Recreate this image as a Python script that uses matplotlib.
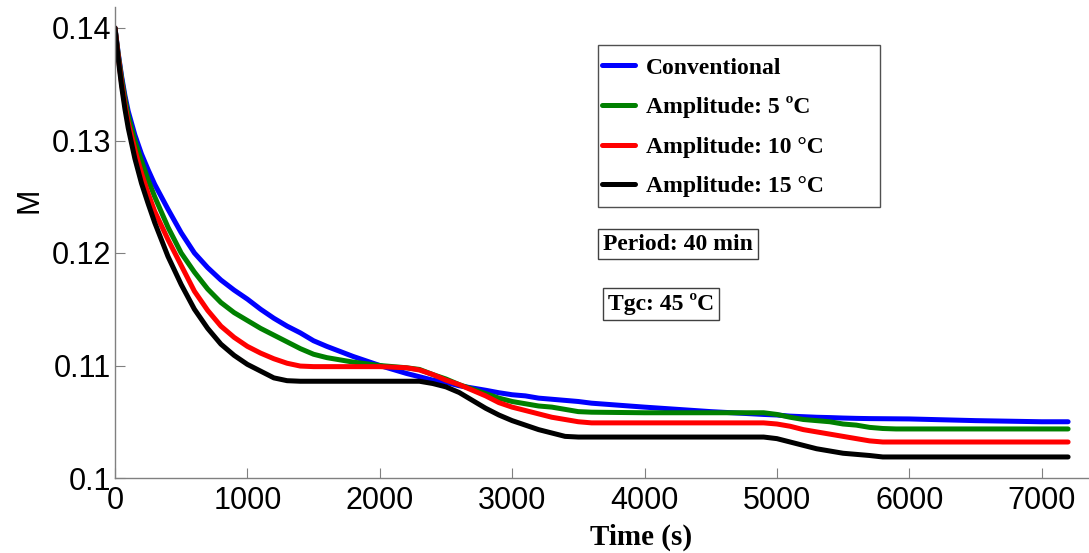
import matplotlib
matplotlib.use("Agg")
import matplotlib.pyplot as plt
from matplotlib.patches import Rectangle

# ---------------- data ----------------
time_s = [0, 25, 50, 75, 100, 150, 200, 250, 300, 400, 500, 600, 700, 800, 900, 1000, 1100,
          1200, 1300, 1400, 1500, 1600, 1800, 2000, 2200, 2300, 2400, 2500, 2600, 2700, 2800,
          2900, 3000, 3100, 3200, 3300, 3400, 3500, 3600, 4000, 4500, 4900, 5000, 5100,
          5200, 5300, 5400, 5500, 5600, 5700, 5800, 5900, 6000, 6500, 7000, 7200]

m_conventional = [0.1400, 0.1377, 0.1357, 0.1340, 0.1326, 0.1305, 0.1288, 0.1274, 0.1261,
                  0.1239, 0.1218, 0.1200, 0.1187, 0.1176, 0.1167, 0.1159, 0.1150, 0.1142,
                  0.1135, 0.1129, 0.1122, 0.1117, 0.1108, 0.1100, 0.1093, 0.1090, 0.1087,
                  0.1085, 0.1082, 0.1080, 0.1078, 0.10758, 0.1074, 0.1073, 0.1071, 0.1070,
                  0.1069, 0.1068, 0.10665, 0.1063, 0.1059, 0.10565, 0.1056, 0.1055, 0.10545,
                  0.1054, 0.10537, 0.10533, 0.1053, 0.10528, 0.10527, 0.10526, 0.10525,
                  0.1051, 0.1050, 0.1050]

m_amp5 = [0.1400, 0.1376, 0.1355, 0.1337, 0.1322, 0.1300, 0.1282, 0.1265, 0.1250, 0.1223,
          0.1200, 0.1183, 0.1168, 0.1156, 0.1147, 0.1140, 0.1133, 0.1127, 0.1121, 0.1115,
          0.1110, 0.1107, 0.1103, 0.1100, 0.1098, 0.10965, 0.1092, 0.1088, 0.1083, 0.1079,
          0.1075, 0.1071, 0.1068, 0.1066, 0.1064, 0.1063, 0.1061, 0.1059, 0.10585, 0.1058,
          0.1058, 0.1058, 0.10565, 0.1054, 0.1052, 0.1051, 0.1050, 0.1048, 0.1047, 0.1045,
          0.10440, 0.10436, 0.10436, 0.10436, 0.10436, 0.10436]

m_amp10 = [0.1400, 0.1374, 0.1351, 0.1332, 0.1316, 0.1292, 0.1271, 0.1253, 0.1237, 0.1212,
           0.1189, 0.1166, 0.1149, 0.1135, 0.1125, 0.1117, 0.1111, 0.1106, 0.1102, 0.10995,
           0.1099, 0.1099, 0.1099, 0.1099, 0.1098, 0.1096, 0.1092, 0.1087, 0.1083, 0.1078,
           0.1073, 0.1067, 0.1063, 0.1060, 0.1057, 0.1054, 0.1052, 0.1050, 0.1049, 0.1049,
           0.1049, 0.1049, 0.1048, 0.1046, 0.1043, 0.1041, 0.1039, 0.1037, 0.1035, 0.1033,
           0.1032, 0.1032, 0.1032, 0.1032, 0.1032, 0.1032]

m_amp15 = [0.1400, 0.1372, 0.1348, 0.1328, 0.1311, 0.1284, 0.1262, 0.1244, 0.1227, 0.1197,
           0.1172, 0.1150, 0.1133, 0.1119, 0.1109, 0.1101, 0.1095, 0.1089, 0.10865, 0.1086,
           0.1086, 0.1086, 0.1086, 0.1086, 0.1086, 0.1086, 0.1084, 0.1081, 0.1076, 0.1069,
           0.1062, 0.1056, 0.1051, 0.1047, 0.1043, 0.1040, 0.1037, 0.10364, 0.10364, 0.10364,
           0.10364, 0.10364, 0.1035, 0.1032, 0.1029, 0.1026, 0.1024, 0.1022, 0.1021, 0.1020,
           0.10187, 0.10187, 0.10187, 0.10187, 0.10187, 0.10187]

series_labels = ["Conventional", "Amplitude: 5 ºC", "Amplitude: 10 °C", "Amplitude: 15 °C"]
series_colors = ["#0000FF", "#008000", "#FF0000", "#000000"]

x_ticks = [0, 1000, 2000, 3000, 4000, 5000, 6000, 7000]
y_ticks = [0.10, 0.11, 0.12, 0.13, 0.14]
y_tick_labels = ["0.1", "0.11", "0.12", "0.13", "0.14"]

# ---------------- figure ----------------
W, H = 1089, 553
fig = plt.figure(figsize=(W / 100, H / 100), dpi=100)
fig.patch.set_facecolor("white")

ax_left, ax_right, ax_bottom, ax_top = 115, 1174, 478, 7
ax = fig.add_axes([ax_left / W, (H - ax_bottom) / H,
                   (ax_right - ax_left) / W, (ax_bottom - ax_top) / H])

series = [m_conventional, m_amp5, m_amp10, m_amp15]
handles = []
for vals, lab, col in zip(series, series_labels, series_colors):
    h, = ax.plot(time_s, vals, color=col, lw=3.6, label=lab, solid_capstyle="round",
                 solid_joinstyle="round")
    handles.append(h)

ax.set_xlim(0, 8000)
ax.set_ylim(0.1, 0.1 + (ax_bottom - ax_top) / 112.5 * 0.01)

ax.set_xticks(x_ticks)
ax.set_yticks(y_ticks)
ax.set_yticklabels(y_tick_labels)
for lbl in ax.get_xticklabels() + ax.get_yticklabels():
    lbl.set_fontfamily("Liberation Sans")
    lbl.set_fontsize(22)
ax.tick_params(direction="in", length=7, width=0.8, color="#808080")
ax.tick_params(axis="x", pad=6)
ax.tick_params(axis="y", pad=3)

for s in ["top", "right"]:
    ax.spines[s].set_visible(False)
for s in ["left", "bottom"]:
    ax.spines[s].set_color("#808080")
    ax.spines[s].set_linewidth(1.0)

ax.set_ylabel("M", fontfamily="Liberation Sans", fontsize=22)
ax.yaxis.set_label_coords((45 - ax_left) / (ax_right - ax_left),
                          (ax_bottom - 200) / (ax_bottom - ax_top))
ax.set_xlabel("Time (s)", fontfamily="Liberation Serif", fontweight="bold", fontsize=21)
ax.xaxis.set_label_coords((641 - ax_left) / (ax_right - ax_left),
                          (ax_bottom - 524) / (ax_bottom - ax_top))

# legend frame (drawn as a rectangle, MATLAB-style wide box)
fig.patches.append(Rectangle((598 / W, 1 - 207 / H), (880 - 598) / W, (207 - 45) / H,
                             transform=fig.transFigure, fill=True, facecolor="white",
                             edgecolor="#505050", lw=1.0, zorder=5))
leg = fig.legend(handles=handles, labels=series_labels, loc="upper left",
                 bbox_to_anchor=(602 / W, 1 - 57 / H), bbox_transform=fig.transFigure,
                 frameon=False, borderpad=0, borderaxespad=0,
                 handlelength=1.4, handletextpad=0.47, labelspacing=0.76,
                 prop={"family": "Liberation Serif", "weight": "bold", "size": 17})
leg.set_zorder(6)

box_kw = dict(boxstyle="square,pad=0.2", facecolor="white", edgecolor="#404040", lw=1.0)
fig.text(678 / W, 1 - 244 / H, "Period: 40 min", ha="center", va="center",
         fontfamily="Liberation Serif", fontweight="bold", fontsize=17, bbox=box_kw)
fig.text(661 / W, 1 - 304 / H, "Tgc: 45 ºC", ha="center", va="center",
         fontfamily="Liberation Serif", fontweight="bold", fontsize=17, bbox=box_kw)

fig.savefig("out.png", dpi=100)
